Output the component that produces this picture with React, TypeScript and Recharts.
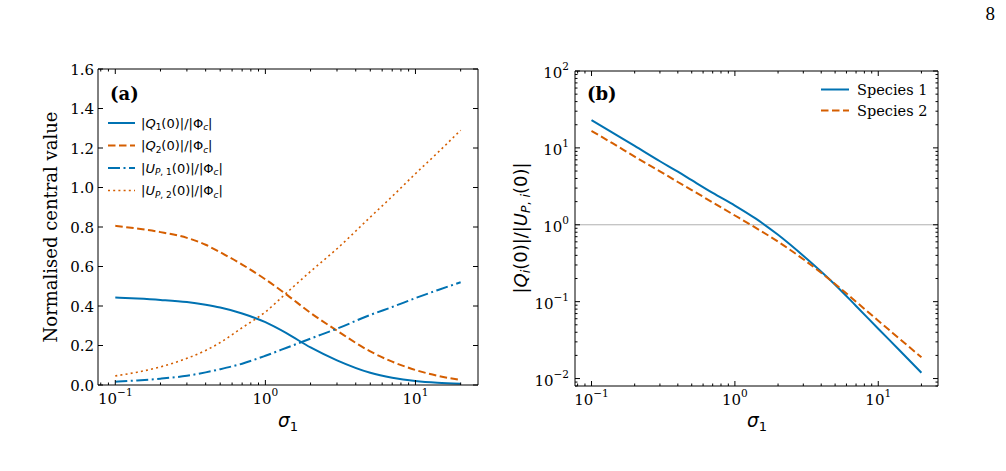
import React from "react";
import { LineChart, Line, XAxis, YAxis, ReferenceLine } from "recharts";

// sigma_1 sample points
const SIGMA = [0.1, 0.14, 0.2, 0.3, 0.4, 0.5, 0.7, 1, 1.4, 2, 3, 5, 7, 10, 14, 20];

// panel (a): normalised central values
const Q1_NORM = [0.443, 0.438, 0.431, 0.42, 0.406, 0.392, 0.362, 0.318, 0.26, 0.19, 0.125, 0.062, 0.037, 0.02, 0.011, 0.006];
const Q2_NORM = [0.806, 0.792, 0.774, 0.745, 0.71, 0.672, 0.61, 0.535, 0.455, 0.365, 0.275, 0.17, 0.118, 0.076, 0.047, 0.025];
const UP1_NORM = [0.017, 0.023, 0.032, 0.047, 0.064, 0.08, 0.108, 0.148, 0.19, 0.235, 0.285, 0.355, 0.395, 0.44, 0.48, 0.52];
const UP2_NORM = [0.046, 0.065, 0.092, 0.135, 0.175, 0.215, 0.29, 0.37, 0.47, 0.575, 0.69, 0.85, 0.955, 1.07, 1.175, 1.29];

// panel (b): |Q_i(0)| / |U_P,i(0)|
const SPECIES1 = [23, 15.8, 10.6, 6.7, 4.9, 3.8, 2.6, 1.78, 1.2, 0.74, 0.395, 0.166, 0.088, 0.0445, 0.0235, 0.0119];
const SPECIES2 = [16.6, 11.5, 7.7, 4.96, 3.6, 2.83, 1.95, 1.32, 0.91, 0.604, 0.356, 0.17, 0.1, 0.0565, 0.0332, 0.0189];

const X_MAJOR = [0.1, 1, 10];
const X_TICKS = [0.08, 0.09, 0.1, 0.2, 0.3, 0.4, 0.5, 0.6, 0.7, 0.8, 0.9, 1, 2, 3, 4, 5, 6, 7, 8, 9, 10, 20];
const LEFT_Y_TICKS = [0, 0.2, 0.4, 0.6, 0.8, 1.0, 1.2, 1.4, 1.6];
const RIGHT_Y_MAJOR = [0.01, 0.1, 1, 10, 100];
const RIGHT_Y_TICKS = [
  0.008, 0.009, 0.01, 0.02, 0.03, 0.04, 0.05, 0.06, 0.07, 0.08, 0.09,
  0.1, 0.2, 0.3, 0.4, 0.5, 0.6, 0.7, 0.8, 0.9,
  1, 2, 3, 4, 5, 6, 7, 8, 9,
  10, 20, 30, 40, 50, 60, 70, 80, 90, 100,
];

const X_DOMAIN = [0.0767, 26.1];
const RIGHT_Y_DOMAIN = [0.008, 100];

const BLUE = "#0072B2";
const ORANGE = "#D55E00";
const SERIF = "'DejaVu Serif', serif";
const SANS = "'DejaVu Sans', sans-serif";

const leftData = SIGMA.map((s, i) => ({ sigma: s, q1: Q1_NORM[i], q2: Q2_NORM[i], up1: UP1_NORM[i], up2: UP2_NORM[i] }));
const rightData = SIGMA.map((s, i) => ({ sigma: s, sp1: SPECIES1[i], sp2: SPECIES2[i] }));

type Side = "bottom" | "top" | "left" | "right";
type Kind = "log" | "linear" | "none";

const isMajor = (v: number, majors: number[] | null) =>
  majors == null || majors.some((m) => Math.abs(v - m) <= Math.abs(m) * 1e-6 + 1e-9);

function expText(v: number) {
  const e = Math.round(Math.log10(v));
  return e < 0 ? "\u2212" + -e : String(e);
}

// matplotlib-style inward ticks, drawn by hand so minor ticks can be shorter
function tickRenderer(side: Side, majors: number[] | null, kind: Kind) {
  return (props: any) => {
    const { x, y, payload } = props;
    const v = payload.value;
    const major = isMajor(v, majors);
    const len = major ? 5 : 2.5;
    let line;
    if (side === "bottom") line = <line x1={x} y1={y} x2={x} y2={y - len} stroke="#000" />;
    else if (side === "top") line = <line x1={x} y1={y} x2={x} y2={y + len} stroke="#000" />;
    else if (side === "left") line = <line x1={x} y1={y} x2={x + len} y2={y} stroke="#000" />;
    else line = <line x1={x} y1={y} x2={x - len} y2={y} stroke="#000" />;

    let label = null;
    if (major && kind !== "none") {
      if (side === "bottom" && kind === "log") {
        label = (
          <text x={x} y={y + 19} textAnchor="middle" fontFamily={SERIF} fontSize={15} fill="#000">
            <tspan>10</tspan>
            <tspan dy={-8} fontSize={10.5}>{expText(v)}</tspan>
          </text>
        );
      } else if (side === "left" && kind === "linear") {
        label = (
          <text x={x - 4} y={y + 5.5} textAnchor="end" fontFamily={SERIF} fontSize={15} fill="#000">
            {v.toFixed(1)}
          </text>
        );
      } else if (side === "left" && kind === "log") {
        label = (
          <text x={x - 6} y={y + 7} textAnchor="end" fontFamily={SERIF} fontSize={15} fill="#000">
            <tspan>10</tspan>
            <tspan dy={-8} fontSize={10.5}>{expText(v)}</tspan>
          </text>
        );
      }
    }
    return (
      <g>
        {line}
        {label}
      </g>
    );
  };
}

function SigmaLabel({ x, y }: { x: number; y: number }) {
  return (
    <text x={x} y={y} textAnchor="middle" fontFamily={SANS} fontSize={18.5} fill="#000">
      <tspan fontStyle="italic">σ</tspan>
      <tspan dy={3.5} fontSize={13}>1</tspan>
    </text>
  );
}

const LEGEND_A = [
  { color: BLUE, dash: undefined as string | undefined, width: 2, sym: "Q", sub: "1", up: false },
  { color: ORANGE, dash: "7.5 3.5", width: 2, sym: "Q", sub: "2", up: false },
  { color: BLUE, dash: "12 3.5 2 3.5", width: 2, sym: "U", sub: "1", up: true },
  { color: ORANGE, dash: "2 3.2", width: 1.6, sym: "U", sub: "2", up: true },
];

function Frame({ xDomain, yDomain, yScale, yTicks, yMajor, yKind, yWidth }: any) {
  return [
    <XAxis key="xb" dataKey="sigma" type="number" scale="log" domain={xDomain} allowDataOverflow ticks={X_TICKS} interval={0}
      tickSize={0} tickMargin={0} tickLine={false} tick={tickRenderer("bottom", X_MAJOR, "log")} height={1} stroke="#000" />,
    <XAxis key="xt" xAxisId="top" orientation="top" dataKey="sigma" type="number" scale="log" domain={xDomain} allowDataOverflow
      ticks={X_TICKS} interval={0} tickSize={0} tickMargin={0} tickLine={false} tick={tickRenderer("top", X_MAJOR, "none")} height={1} stroke="#000" />,
    <YAxis key="yl" type="number" scale={yScale} domain={yDomain} allowDataOverflow ticks={yTicks} interval={0} tickSize={0} tickMargin={0}
      tickLine={false} tick={tickRenderer("left", yMajor, yKind)} width={yWidth} stroke="#000" />,
    <YAxis key="yr" yAxisId="right" orientation="right" type="number" scale={yScale} domain={yDomain} allowDataOverflow ticks={yTicks}
      interval={0} tickSize={0} tickMargin={0} tickLine={false} tick={tickRenderer("right", yMajor, "none")} width={1} stroke="#000" />,
  ];
}

export default function App() {
  return (
    <div style={{ position: "absolute", left: 0, top: 0, width: 1006, height: 471, background: "#fff", overflow: "hidden" }}>
      <div style={{ position: "absolute", left: 0, top: 0 }}>
        <LineChart width={500} height={471} data={leftData} margin={{ top: 68, right: 21, bottom: 85, left: 0 }}>
          {Frame({ xDomain: X_DOMAIN, yDomain: [0, 1.6], yScale: "linear", yTicks: LEFT_Y_TICKS, yMajor: null, yKind: "linear", yWidth: 98 })}
          <Line type="monotone" dataKey="q1" stroke={BLUE} strokeWidth={2} dot={false} isAnimationActive={false} />
          <Line type="monotone" dataKey="q2" stroke={ORANGE} strokeWidth={2} strokeDasharray="7.5 3.5" dot={false} isAnimationActive={false} />
          <Line type="monotone" dataKey="up1" stroke={BLUE} strokeWidth={2} strokeDasharray="12 3.5 2 3.5" dot={false} isAnimationActive={false} />
          <Line type="monotone" dataKey="up2" stroke={ORANGE} strokeWidth={1.6} strokeDasharray="2 3.2" dot={false} isAnimationActive={false} />
        </LineChart>
      </div>

      <div style={{ position: "absolute", left: 500, top: 0 }}>
        <LineChart width={506} height={471} data={rightData} margin={{ top: 70, right: 67, bottom: 84, left: 0 }}>
          {Frame({ xDomain: X_DOMAIN, yDomain: RIGHT_Y_DOMAIN, yScale: "log", yTicks: RIGHT_Y_TICKS, yMajor: RIGHT_Y_MAJOR, yKind: "log", yWidth: 75 })}
          <ReferenceLine y={1} stroke="#b0b0b0" strokeWidth={1} />
          <Line type="monotone" dataKey="sp1" stroke={BLUE} strokeWidth={2} dot={false} isAnimationActive={false} />
          <Line type="monotone" dataKey="sp2" stroke={ORANGE} strokeWidth={2} strokeDasharray="7.5 3.5" dot={false} isAnimationActive={false} />
        </LineChart>
      </div>

      <svg width={1006} height={471} style={{ position: "absolute", left: 0, top: 0, pointerEvents: "none" }}>
        <text x={995} y={20} textAnchor="end" fontFamily="'Liberation Serif', serif" fontSize={19} fill="#000">8</text>

        {/* panel (a) */}
        <text x={110} y={100} fontFamily={SERIF} fontWeight="bold" fontSize={18} fill="#000">(a)</text>
        {LEGEND_A.map((it, i) => {
          const y = 123 + i * 22.5;
          return (
            <g key={i}>
              <line x1={108} x2={135} y1={y} y2={y} stroke={it.color} strokeWidth={it.width} strokeDasharray={it.dash} />
              <text x={141} y={y + 4.5} fontFamily={SANS} fontSize={13} fill="#000">
                <tspan>|</tspan>
                <tspan fontStyle="italic">{it.sym}</tspan>
                {it.up ? (
                  <>
                    <tspan dy={2.5} fontSize={9} fontStyle="italic">P</tspan>
                    <tspan fontSize={9}>, {it.sub}</tspan>
                    <tspan dy={-2.5}>(0)|/|Φ</tspan>
                  </>
                ) : (
                  <>
                    <tspan dy={2.5} fontSize={9}>{it.sub}</tspan>
                    <tspan dy={-2.5}>(0)|/|Φ</tspan>
                  </>
                )}
                <tspan dy={2.5} fontSize={9} fontStyle="italic">c</tspan>
                <tspan dy={-2.5}>|</tspan>
              </text>
            </g>
          );
        })}
        <text transform="translate(57,227) rotate(-90)" textAnchor="middle" fontFamily={SERIF} fontSize={18} fill="#000">
          Normalised central value
        </text>
        <SigmaLabel x={288} y={427} />

        {/* panel (b) */}
        <text x={587} y={100} fontFamily={SERIF} fontWeight="bold" fontSize={18} fill="#000">(b)</text>
        <line x1={821} x2={849} y1={89.5} y2={89.5} stroke={BLUE} strokeWidth={2} />
        <text x={857} y={94.5} fontFamily={SERIF} fontSize={14.5} fill="#000">Species 1</text>
        <line x1={821} x2={849} y1={110.5} y2={110.5} stroke={ORANGE} strokeWidth={2} strokeDasharray="7.5 3.5" />
        <text x={857} y={115.5} fontFamily={SERIF} fontSize={14.5} fill="#000">Species 2</text>
        <text transform="translate(527,228) rotate(-90)" textAnchor="middle" fontFamily={SANS} fontSize={18} fill="#000">
          <tspan>|</tspan>
          <tspan fontStyle="italic">Q</tspan>
          <tspan dy={3} fontSize={12.5} fontStyle="italic">i</tspan>
          <tspan dy={-3}>(0)|/|</tspan>
          <tspan fontStyle="italic">U</tspan>
          <tspan dy={3} fontSize={12.5} fontStyle="italic">P</tspan>
          <tspan fontSize={12.5}>, </tspan>
          <tspan fontSize={12.5} fontStyle="italic">i</tspan>
          <tspan dy={-3}>(0)|</tspan>
        </text>
        <SigmaLabel x={757} y={427} />
      </svg>
    </div>
  );
}
